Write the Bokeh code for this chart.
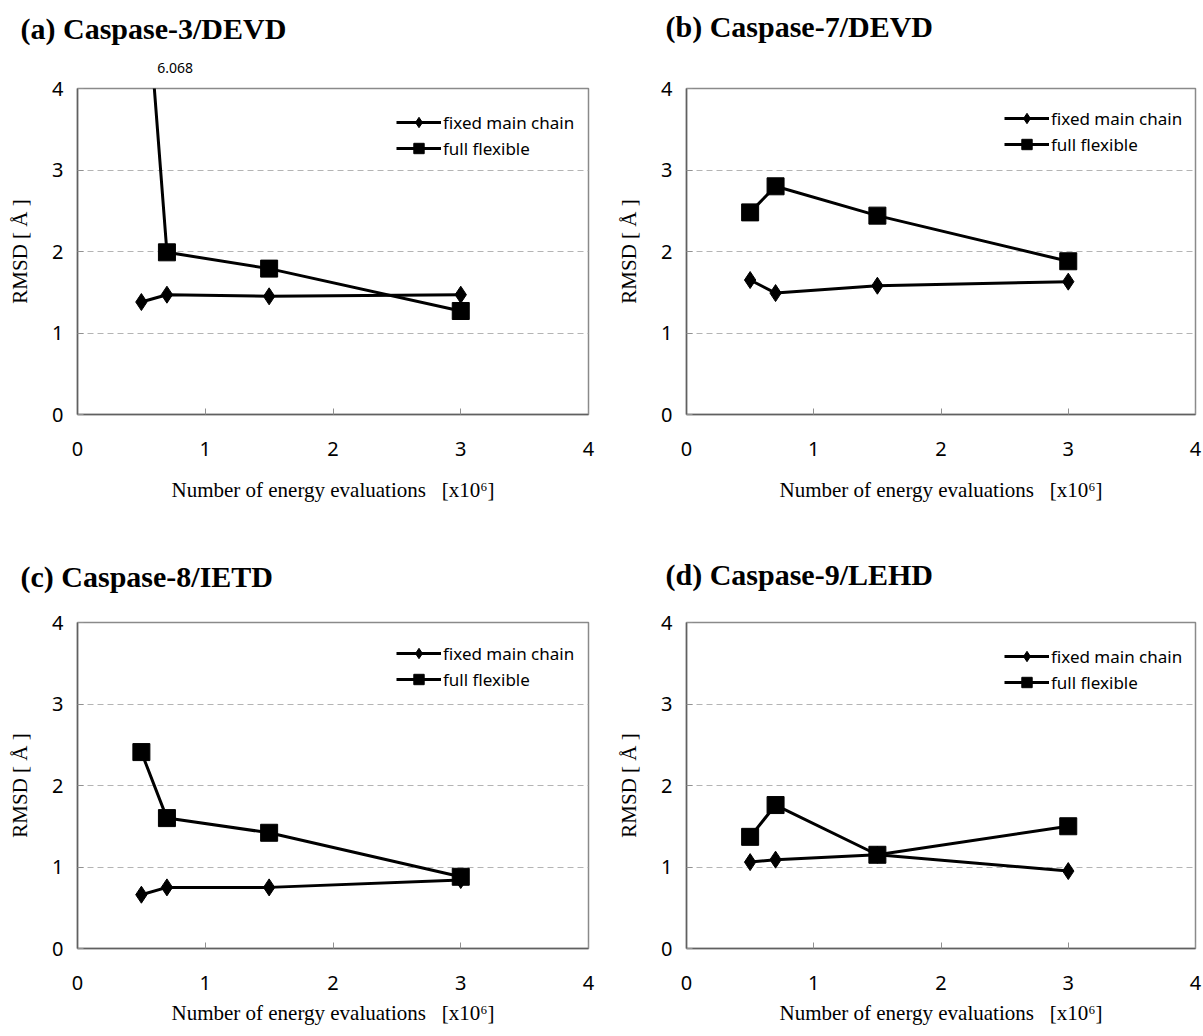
from bokeh.plotting import figure
from bokeh.models import Range1d, FixedTicker, Legend, LegendItem, Title
from bokeh.layouts import row, column
from bokeh.embed import file_html
from bokeh.resources import INLINE

# ---------------- data ----------------
evals = [0.5, 0.7, 1.5, 3.0]  # number of energy evaluations [x10^6]

titles = ["(a) Caspase-3/DEVD", "(b) Caspase-7/DEVD",
          "(c) Caspase-8/IETD", "(d) Caspase-9/LEHD"]

fixed_a = [1.38, 1.47, 1.45, 1.47]
full_a = [6.068, 1.99, 1.79, 1.27]
fixed_b = [1.65, 1.49, 1.58, 1.63]
full_b = [2.48, 2.80, 2.44, 1.88]
fixed_c = [0.66, 0.75, 0.75, 0.84]
full_c = [2.41, 1.60, 1.42, 0.88]
fixed_d = [1.06, 1.09, 1.15, 0.95]
full_d = [1.37, 1.76, 1.15, 1.50]

x_ticks = [0, 1, 2, 3, 4]
y_ticks = [0, 1, 2, 3, 4]
x_label = "Number of energy evaluations\u00a0\u00a0\u00a0[x10\u2076]"
y_label = "RMSD [ \u00c5 ]"
legend_labels = ["fixed main chain", "full flexible"]
off_scale_label = "6.068"

# ---------------- layout / style ----------------
panels = [
    dict(title=titles[0], fixed=fixed_a, full=full_a, w=600, h=536,
         bl=77, br=12, bt=86, bb=122, t_off=-57, gap=32, xl_stand=19),
    dict(title=titles[1], fixed=fixed_b, full=full_b, w=603, h=536,
         bl=86, br=8, bt=88, bb=116, t_off=-21, gap=25, xl_stand=19),
    dict(title=titles[2], fixed=fixed_c, full=full_c, w=600, h=500,
         bl=77, br=12, bt=81, bb=88, t_off=-57, gap=9, xl_stand=8),
    dict(title=titles[3], fixed=fixed_d, full=full_d, w=603, h=500,
         bl=86, br=8, bt=86, bb=86, t_off=-21, gap=11, xl_stand=8),
]

SANS = "Noto Sans"
SERIF = "Liberation Serif"


def make_panel(cfg, annotate_top=False):
    p = figure(width=cfg["w"], height=cfg["h"], output_backend="svg",
               toolbar_location=None,
               x_range=Range1d(x_ticks[0], x_ticks[-1]),
               y_range=Range1d(y_ticks[0], y_ticks[-1]))
    p.min_border_left = cfg["bl"]
    p.min_border_right = cfg["br"]
    p.min_border_top = cfg["bt"]
    p.min_border_bottom = cfg["bb"]
    p.background_fill_color = "white"
    p.border_fill_color = "white"
    p.outline_line_color = "#8a8a8a"
    p.outline_line_width = 1.5
    frame_w = cfg["w"] - cfg["bl"] - cfg["br"]
    frame_h = cfg["h"] - cfg["bt"] - cfg["bb"]

    # inner item above the frame: the off-scale value label for (a), a spacer otherwise
    if annotate_top:
        ys = cfg["full"]
        top = y_ticks[-1]
        xc = evals[0] + (evals[1] - evals[0]) * (ys[0] - top) / (ys[0] - ys[1])
        off = frame_w * (xc - x_ticks[0]) / (x_ticks[-1] - x_ticks[0]) + 3
        inner = Title(text=off_scale_label, align="left", offset=off,
                      standoff=cfg["gap"], text_font=SANS,
                      text_font_size="14px", text_font_style="normal",
                      text_color="black")
    else:
        inner = Title(text=" ", align="left", offset=0, standoff=cfg["gap"],
                      text_font=SANS, text_font_size="14px",
                      text_font_style="normal", text_color="black")
    p.add_layout(inner, "above")
    main_title = Title(text=cfg["title"], align="left", offset=cfg["t_off"],
                       standoff=0, text_font=SERIF, text_font_style="bold",
                       text_font_size="30px", text_color="black")
    p.add_layout(main_title, "above")

    for ax in (p.xaxis[0], p.yaxis[0]):
        ax.axis_line_color = "#606060"
        ax.axis_line_width = 1.5
        ax.major_tick_in = 6
        ax.major_tick_out = 0
        ax.major_tick_line_color = "#909090"
        ax.minor_tick_line_color = None
        ax.major_label_text_font = SANS
        ax.major_label_text_font_size = "20px"
        ax.major_label_text_color = "black"
        ax.axis_label_text_font = SERIF
        ax.axis_label_text_font_style = "normal"
        ax.axis_label_text_font_size = "21px"
        ax.axis_label_text_color = "black"
    p.xaxis.ticker = FixedTicker(ticks=x_ticks)
    p.yaxis.ticker = FixedTicker(ticks=y_ticks)
    p.xaxis.axis_label = x_label
    p.yaxis.axis_label = y_label
    p.xaxis.major_label_standoff = 27
    p.yaxis.major_label_standoff = 14
    p.xaxis.axis_label_standoff = cfg["xl_stand"]
    p.yaxis.axis_label_standoff = 17

    p.xgrid.visible = False
    p.ygrid.ticker = FixedTicker(ticks=y_ticks[1:-1])
    p.ygrid.grid_line_color = "#b4b4b4"
    p.ygrid.grid_line_dash = "6 4"
    p.ygrid.grid_line_width = 1.2

    l1 = p.line(evals, cfg["fixed"], line_width=3, line_color="black")
    s1 = p.scatter(evals, cfg["fixed"], marker="diamond", size=17,
                   fill_color="black", line_color="black")
    l2 = p.line(evals, cfg["full"], line_width=3, line_color="black")
    s2 = p.scatter(evals, cfg["full"], marker="square", size=17,
                   fill_color="black", line_color="black")

    leg = Legend(items=[LegendItem(label=legend_labels[0], renderers=[l1, s1]),
                        LegendItem(label=legend_labels[1], renderers=[l2, s2])],
                 location=(round(frame_w * 0.625), frame_h - 75),
                 orientation="vertical",
                 padding=0, margin=0, spacing=0,
                 glyph_width=45, glyph_height=26, label_height=22,
                 label_standoff=2,
                 label_text_font=SANS, label_text_font_size="17px",
                 label_text_color="black",
                 border_line_color=None, background_fill_alpha=0)
    p.add_layout(leg)
    return p


pa = make_panel(panels[0], annotate_top=True)
pb = make_panel(panels[1])
pc = make_panel(panels[2])
pd = make_panel(panels[3])

layout = column(row(pa, pb), row(pc, pd))
open("out.html", "w").write(file_html(layout, INLINE))
